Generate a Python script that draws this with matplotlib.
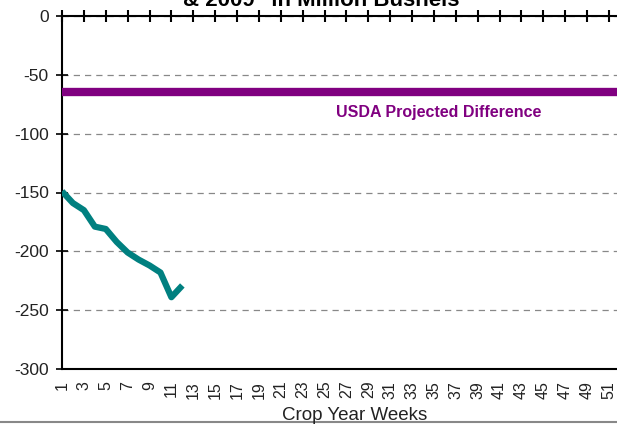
import numpy as np
import matplotlib.pyplot as plt

plt.rcParams["font.family"] = ["Liberation Sans", "DejaVu Sans"]

# weekly cumulative difference, million bushels
weeks = np.arange(1, 13)
diff = [-149, -159, -165, -179, -181, -192, -201, -207, -212, -218, -239, -229]

usda_projected = -65
usda_label = "USDA Projected Difference"

week_ticks = np.arange(1, 52, 2)
y_ticks = [0, -50, -100, -150, -200, -250, -300]

fig = plt.figure(figsize=(6.17, 4.24), dpi=100)
ax = fig.add_axes([62 / 617, 1 - 369 / 424, 1 - 62 / 617 + 0.01, 353 / 424])

ax.axhline(usda_projected, color="#800080", lw=6, zorder=3)
ax.text(35.4, usda_projected - 17, usda_label, color="#800080", fontsize=11.5,
        fontweight="bold", ha="center", va="center")
ax.plot(weeks, diff, color="#008080", lw=4.5, solid_joinstyle="round",
        solid_capstyle="butt", zorder=4)

ax.set_xlim(1, 52.3)
ax.set_ylim(-300, 0)
ax.set_yticks(y_ticks)
ax.set_yticklabels([str(v) for v in y_ticks], fontsize=12.5, color="#222222")
ax.set_xticks(week_ticks)
ax.set_xticklabels([str(w) for w in week_ticks], rotation=90, fontsize=11.5,
                   color="#222222", va="top")
ax.yaxis.grid(True, color="#888888", ls=(0, (5, 4)), lw=0.9)
ax.set_axisbelow(True)

ax.spines["right"].set_visible(False)
for s in ("top", "left", "bottom"):
    ax.spines[s].set_linewidth(1.5)
    ax.spines[s].set_color("black")

ax.tick_params(axis="x", top=True, bottom=False, labeltop=False, labelbottom=True,
               direction="inout", length=9, width=1.5, pad=4)
ax.tick_params(axis="y", direction="inout", length=9, width=1.2, pad=5)

# axis title sits just under the rotated week labels
fig.text(355 / 617, 1 - 420 / 424, "Crop Year Weeks", ha="center", va="baseline",
         fontsize=13.5, color="#222222")

fig.text(0.52, 1 - 6 / 424, "& 2009\" in Million Bushels", ha="center", va="baseline",
         fontsize=16, fontweight="bold")
fig.add_artist(plt.Line2D([0, 1], [1 - 421.5 / 424] * 2, color="#888888", lw=1.5))

fig.savefig("out.png", dpi=100)
